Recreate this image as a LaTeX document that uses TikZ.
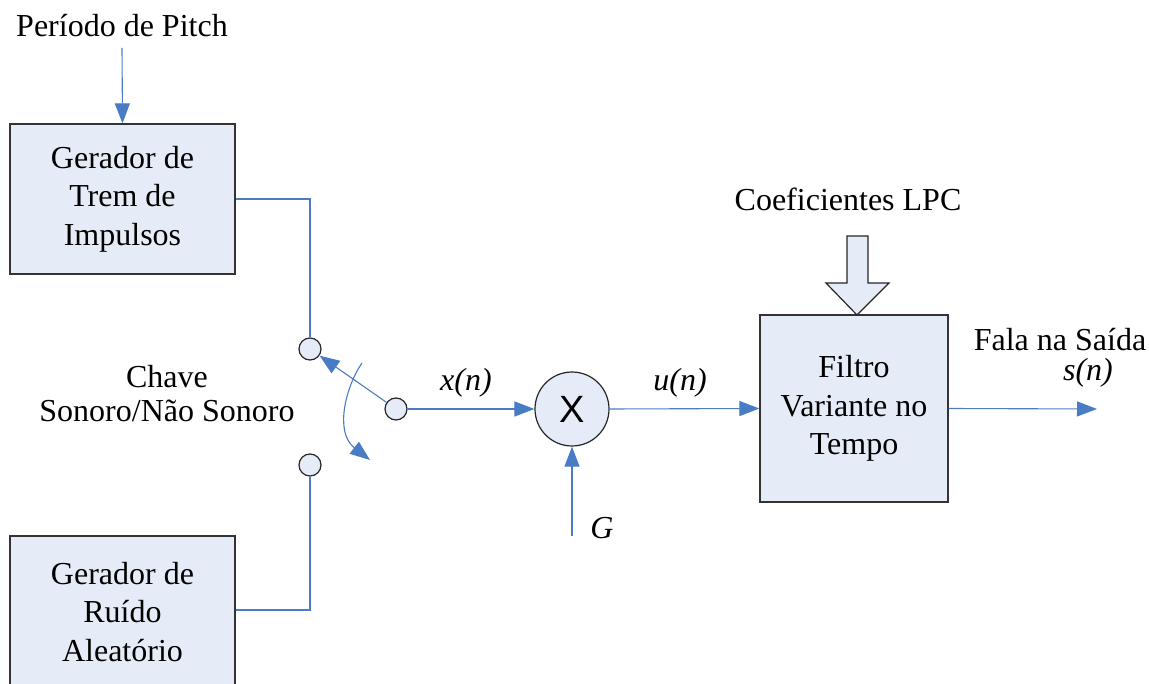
\documentclass[tikz,border=0pt]{standalone}
\usepackage{fontspec}
\setmainfont{Liberation Serif}
\newfontfamily\arialf{Liberation Sans}
\usetikzlibrary{arrows.meta}
\definecolor{boxfill}{HTML}{E6ECF7}
\definecolor{lineblue}{HTML}{4A7CC6}
\tikzset{
  blk/.style={draw=black!80, fill=boxfill, line width=1.2pt, align=center, inner sep=0pt,
    font=\fontsize{32}{38.5}\selectfont},
  sw/.style={circle, draw=black!85, fill=boxfill, line width=1.2pt, minimum size=22pt, inner sep=0pt},
  conn/.style={draw=lineblue, line width=1.1pt},
  arr/.style={conn, -{Triangle[length=20pt,width=15pt]}},
  lbl/.style={font=\fontsize{32}{34}\selectfont, align=center, inner sep=0pt},
  ilbl/.style={font=\fontsize{32}{34}\selectfont\itshape, inner sep=0pt},
}
\begin{document}
\begin{tikzpicture}[x=1pt,y=-1pt]
\useasboundingbox (0,0) rectangle (1149,684);
\clip (0,0) rectangle (1149,684);
% boxes
\node[blk, minimum width=225pt, minimum height=150pt] (trem) at (122.5,199) {Gerador de\\Trem de\\Impulsos};
\node[blk, minimum width=225pt, minimum height=152pt] (ruido) at (122.5,612) {Gerador de\\Ruído\\Aleatório};
\node[blk, minimum width=188pt, minimum height=187pt] (filtro) at (854,408.5) {Filtro\\Variante no\\Tempo};
% switch contacts
\node[sw] (c1) at (310,349) {};
\node[sw] (c2) at (310,465) {};
\node[sw] (c3) at (396,409) {};
% multiplier
\node[circle, draw=black!85, fill=boxfill, line width=1.2pt, minimum size=74pt, inner sep=0pt,
  font=\arialf\fontsize{38}{38}\selectfont] (mult) at (572,409) {X};
% labels
\node[lbl] (pitch) at (122,26) {Período de Pitch};
\node[lbl] (chave1) at (167,377) {Chave};
\node[lbl] (chave2) at (167,411) {Sonoro/Não Sonoro};
\node[lbl] (lpc) at (848,199) {Coeficientes LPC};
\node[lbl] (fala) at (1060,340) {Fala na Saída};
\node[ilbl] (sn) at (1088,373) {s(n)};
\node[ilbl] (xn) at (466,383) {x(n)};
\node[ilbl] (un) at (680,383) {u(n)};
\node[ilbl] (g) at (602,528) {G};
% coordinates
\coordinate (pitchstart) at (122,48);
\coordinate (gstart) at (572,536);
\coordinate (out) at (1097,409);
\coordinate (cstart) at (362,363);
\coordinate (cend) at (370,460);
% connectors
\draw[arr] (pitchstart) -- (trem.north);
\draw[conn] (trem.east |- 0,199) -| (c1.north);
\draw[conn] (ruido.east |- 0,610) -| (c2.south);
\draw[arr] (c3) -- (c1);
\draw[arr] (cstart) .. controls (346,386) and (334,432) .. (cend);
\draw[arr] (c3.east) -- (mult.west);
\draw[arr] (gstart) -- (mult.south);
\draw[arr] (mult.east) -- (filtro.west);
\draw[arr] (filtro.east) -- (out);
% block arrow
\draw[draw=black!85, fill=boxfill, line width=1.2pt] (847,236) -- (868,236) -- (868,283) -- (889,283) -- (857,315) -- (826,283) -- (847,283) -- cycle;
\end{tikzpicture}
\end{document}
